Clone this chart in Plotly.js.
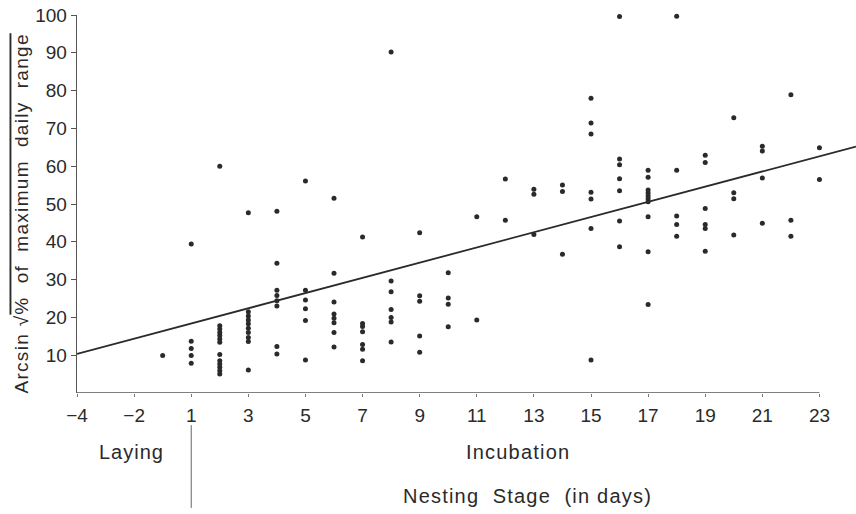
<!DOCTYPE html>
<html>
<head>
<meta charset="utf-8">
<script src="https://cdn.plot.ly/plotly-3.0.1.min.js"></script>
<style>
  html, body { margin: 0; padding: 0; background: #fff; }
  #chart { width: 856px; height: 514px; }
</style>
</head>
<body>
<div id="chart"></div>
<script>
// ---- data (nesting day, arcsin-transformed % of maximum daily range) ----
const columnDays = [-1, 1, 2, 3, 4, 5, 6, 7, 8, 9, 10, 11, 12, 13, 14, 15, 16, 17, 18, 19, 20, 21, 22, 23];
const columnValues = [
  [9.9],
  [39.4, 13.7, 11.8, 9.9, 7.9],
  [60.0, 17.8, 16.9, 16.0, 15.2, 14.3, 13.4, 10.2, 8.5, 7.7, 6.8, 5.9, 5.0],
  [47.7, 21.5, 20.4, 19.3, 18.3, 17.1, 16.0, 14.7, 13.6, 6.1],
  [48.1, 34.3, 27.2, 25.8, 24.4, 23.0, 12.3, 10.3],
  [56.1, 27.2, 24.6, 22.3, 19.2, 8.7],
  [51.5, 31.7, 24.1, 20.9, 19.8, 18.6, 16.0, 12.2],
  [41.3, 18.4, 17.6, 16.2, 12.8, 11.6, 8.5],
  [90.2, 29.6, 26.8, 22.1, 20.0, 18.8, 13.5],
  [42.4, 25.7, 24.3, 15.1, 10.8],
  [31.8, 25.1, 23.5, 17.5],
  [46.6, 19.3],
  [56.6, 45.7],
  [53.9, 52.6, 41.9],
  [55.0, 53.3, 36.7],
  [78.0, 71.4, 68.5, 53.1, 51.3, 43.5, 8.7],
  [100.3, 99.6, 61.9, 60.4, 56.7, 53.5, 45.5, 38.7],
  [58.9, 57.1, 53.7, 52.9, 52.1, 51.4, 50.6, 46.6, 37.4, 23.4],
  [100.4, 99.7, 58.9, 46.8, 44.6, 41.5],
  [62.9, 61.0, 48.8, 44.6, 43.5, 37.5],
  [100.3, 72.8, 53.0, 51.4, 41.8],
  [100.2, 65.3, 64.0, 56.9, 44.9],
  [78.9, 45.7, 41.5],
  [64.9, 56.5]
];
const tickDays = [-4, -2, 1, 3, 5, 7, 9, 11, 13, 15, 17, 19, 21, 23];
const yTicks = [10, 20, 30, 40, 50, 60, 70, 80, 90, 100];
const fitAtDay1 = 18.4;      // regression value at day 1
const fitSlopePerDay = 2.01; // regression slope

// there is no day 0: the axis runs ... -2, -1, 1, 2 ...
function dayToAxis(d) { return d < 1 ? d : d - 1; }

const xs = [], ys = [];
columnDays.forEach((d, i) => {
  columnValues[i].forEach(v => { xs.push(dayToAxis(d)); ys.push(v); });
});

const xMin = -4, xMax = 23.28;
const fitX = [xMin, xMax];
const fitY = fitX.map(p => fitAtDay1 + fitSlopePerDay * p);

const FONT = 'Liberation Sans, Arial, sans-serif';
const INK = '#2a2a2a';
const spaced = (t, ls) => '<span style="letter-spacing:' + ls + 'px">' + t + '</span>';

const data = [
  {
    type: 'scatter', mode: 'lines', x: fitX, y: fitY,
    line: { color: INK, width: 1.8 }, hoverinfo: 'skip', showlegend: false
  },
  {
    type: 'scatter', mode: 'markers', x: xs, y: ys,
    marker: { color: INK, size: 5 }, cliponaxis: false, showlegend: false
  }
];

const layout = {
  width: 856, height: 514,
  margin: { l: 77, r: 0, t: 15, b: 121 },
  paper_bgcolor: '#fff', plot_bgcolor: '#fff',
  font: { family: FONT, size: 19, color: INK },
  showlegend: false,
  xaxis: {
    range: [xMin, xMax],
    tickvals: tickDays.map(dayToAxis),
    ticktext: tickDays.map(d => d < 0 ? '\u2212' + Math.abs(d) : String(d)),
    ticks: 'outside', ticklen: 3, tickwidth: 1, tickcolor: '#777',
    showline: false, showgrid: false, zeroline: false,
    tickfont: { family: FONT, size: 19, color: INK },
    ticklabelstandoff: 2
  },
  yaxis: {
    range: [0, 100],
    tickvals: yTicks,
    ticks: 'outside', ticklen: 5, tickwidth: 1, tickcolor: '#555',
    showline: true, linecolor: '#555', linewidth: 1.3,
    showgrid: false, zeroline: false,
    tickfont: { family: FONT, size: 19, color: INK }
  },
  shapes: [
    { type: 'line', xref: 'x', yref: 'y', x0: -4, x1: 22, y0: 0, y1: 0,
      line: { color: '#555', width: 1.3 } },
    { type: 'line', xref: 'x', yref: 'paper', x0: 0, x1: 0, y0: -0.085, y1: -0.304,
      line: { color: '#666', width: 1 } }
  ],
  annotations: [
    { text: spaced('Arcsin \u221A<span style="text-decoration:overline">%  of  maximum  daily  range</span>', 1.3),
      xref: 'paper', yref: 'paper', x: -0.0725, y: 0.4735, textangle: -90,
      xanchor: 'center', yanchor: 'middle',
      showarrow: false, font: { family: FONT, size: 19, color: INK } },
    { text: spaced('Laying', 1), xref: 'paper', yref: 'paper', x: 0.0706, y: -0.156,
      xanchor: 'center', yanchor: 'middle',
      showarrow: false, font: { family: FONT, size: 20, color: INK } },
    { text: spaced('Incubation', 1.2), xref: 'paper', yref: 'paper', x: 0.566, y: -0.156,
      xanchor: 'center', yanchor: 'middle',
      showarrow: false, font: { family: FONT, size: 20, color: INK } },
    { text: spaced('Nesting  Stage  (in days)', 1.2), xref: 'paper', yref: 'paper', x: 0.5777, y: -0.272,
      xanchor: 'center', yanchor: 'middle',
      showarrow: false, font: { family: FONT, size: 20, color: INK } }
  ]
};

Plotly.newPlot('chart', data, layout, { staticPlot: true, displayModeBar: false });
</script>
</body>
</html>
